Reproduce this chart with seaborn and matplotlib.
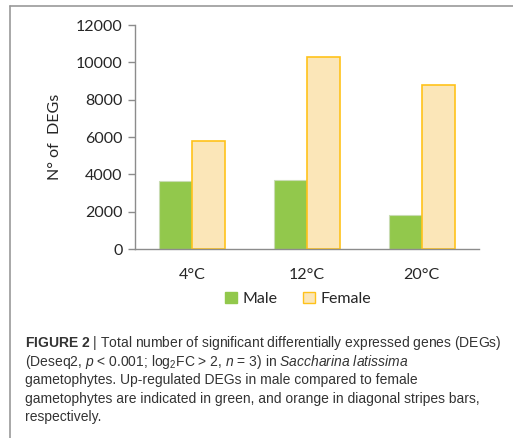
import matplotlib
matplotlib.use("Agg")
from matplotlib import pyplot as plt
from matplotlib.lines import Line2D
from matplotlib.patches import Patch
import pandas as pd
import seaborn as sns

temps = ["4°C", "12°C", "20°C"]
male = [3660, 3720, 1800]
female = [5770, 10270, 8800]
yticks = [0, 2000, 4000, 6000, 8000, 10000, 12000]

df = pd.DataFrame({
    "temp": temps * 2,
    "n": male + female,
    "sex": ["Male"] * 3 + ["Female"] * 3,
})

sns.set_style("white")
plt.rcParams["font.family"] = ["Lato", "DejaVu Sans"]
plt.rcParams["mathtext.fontset"] = "custom"
plt.rcParams["mathtext.rm"] = "Liberation Sans"
plt.rcParams["mathtext.it"] = "Liberation Sans:italic"
plt.rcParams["mathtext.bf"] = "Liberation Sans:bold"

green = "#92c84c"
cream = "#fbe6b8"
gold = "#ffc21a"
axis_gray = "#8c8c8c"

fig = plt.figure(figsize=(5.13, 4.38), dpi=100)
ax = fig.add_axes([135 / 513, 1 - 249 / 438, 344 / 513, 224 / 438])

sns.barplot(data=df, x="temp", y="n", hue="sex", palette=[green, cream],
            saturation=1, width=0.575, gap=0, ax=ax, legend=False)
for p in ax.containers[0]:
    p.set_edgecolor("#c9dcb4")
    p.set_linewidth(0.8)
for p in ax.containers[1]:
    p.set_edgecolor(gold)
    p.set_linewidth(1.2)

ax.set_ylim(0, 12000)
ax.set_xlim(-0.5, 2.5)
ax.set_yticks(yticks)
ax.set_yticklabels([str(t) for t in yticks], fontsize=11.5, color="#262626")
ax.set_xticks([-0.5, 0.5, 1.5, 2.5])
ax.set_xticklabels([])
ax.set_xticks([0, 1, 2], minor=True)
ax.set_xticklabels(temps, minor=True, fontsize=11.5, color="#262626")
ax.tick_params(axis="x", which="major", length=5, color=axis_gray, width=1)
ax.tick_params(axis="x", which="minor", length=0, pad=14)
ax.tick_params(axis="y", length=5, color=axis_gray, width=1, pad=4, left=True)
ax.set_xlabel("")
ax.set_ylabel("N° of  DEGs", fontsize=11.5, color="#262626", labelpad=10)
sns.despine(ax=ax)
for s in ["left", "bottom"]:
    ax.spines[s].set_color(axis_gray)
    ax.spines[s].set_linewidth(1)

handles = [Patch(facecolor=green, edgecolor=green, label="Male"),
           Patch(facecolor=cream, edgecolor=gold, label="Female")]
fig.legend(handles=handles, loc="center", bbox_to_anchor=(298 / 513, 1 - 299 / 438),
           ncol=2, frameon=False, fontsize=11.5, handlelength=0.75, handleheight=0.75,
           handletextpad=0.35, columnspacing=1.6, labelcolor="#262626")

# frame around the figure panel
fig.add_artist(Line2D([9.5 / 513, 9.5 / 513], [0, 1 - 6 / 438], color="#999999", lw=1.2))
fig.add_artist(Line2D([9.5 / 513, 1], [1 - 6 / 438, 1 - 6 / 438], color="#999999", lw=1.2))

caption = [
    r"$\mathbf{FIGURE\ 2}$ | Total number of significant differentially expressed genes (DEGs)",
    r"(Deseq2, $p$ < 0.001; log$_2$FC > 2, $n$ = 3) in $Saccharina\ latissima$",
    "gametophytes. Up-regulated DEGs in male compared to female",
    "gametophytes are indicated in green, and orange in diagonal stripes bars,",
    "respectively.",
]
for i, line in enumerate(caption):
    fig.text(25 / 513, 1 - (343 + i * 18.6) / 438, line, fontsize=10,
             family="Liberation Sans", color="#333333", va="center", ha="left")

fig.savefig("out.png", dpi=100)
